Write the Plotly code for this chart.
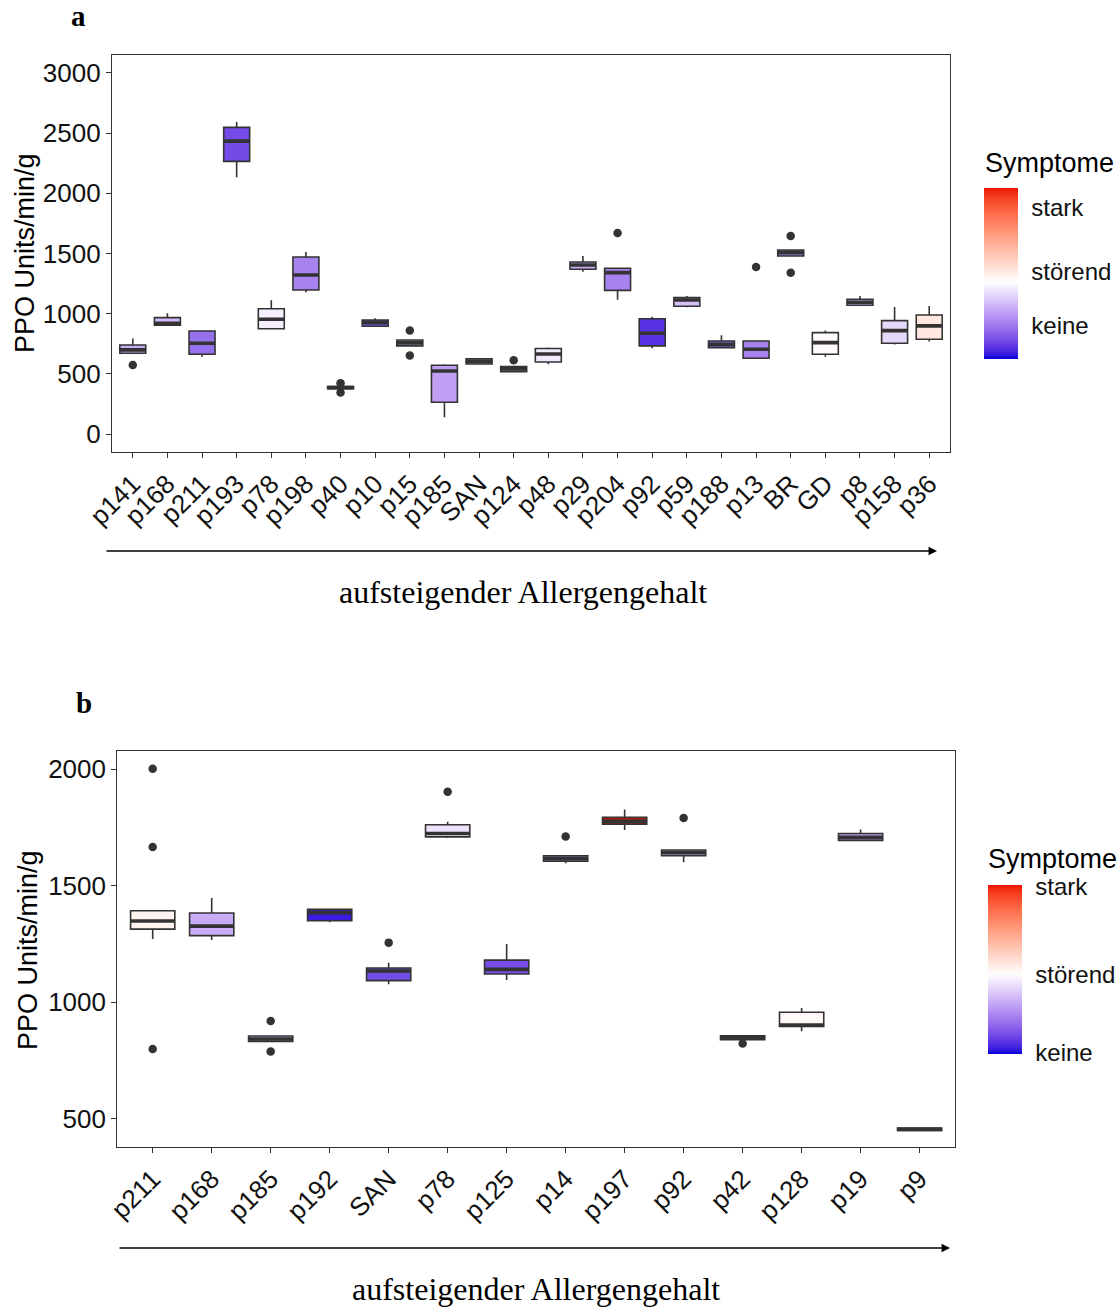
import plotly.graph_objects as go

# ---------------- data: panel a ----------------
cats_a = ["p141", "p168", "p211", "p193", "p78", "p198", "p40", "p10", "p15", "p185", "SAN", "p124",
          "p48", "p29", "p204", "p92", "p59", "p188", "p13", "BR", "GD", "p8", "p158", "p36"]
q1_a = [672, 904, 664, 2265, 876, 1197, 378, 896, 733, 265, 583, 520,
        600, 1369, 1194, 733, 1062, 719, 630, 1479, 664, 1070, 755, 788]
med_a = [700, 921, 755, 2433, 954, 1322, 387, 926, 758, 525, 603, 542,
         666, 1405, 1341, 838, 1114, 746, 705, 1507, 760, 1095, 860, 899]
q3_a = [741, 968, 857, 2547, 1042, 1471, 395, 948, 782, 572, 625, 561,
        711, 1430, 1377, 959, 1134, 774, 774, 1529, 843, 1120, 943, 990]
lo_a = [672, 904, 644, 2132, 876, 1178, 378, 896, 733, 141, 583, 520,
        581, 1349, 1117, 713, 1053, 719, 630, 1479, 644, 1070, 744, 769]
hi_a = [794, 1004, 857, 2591, 1112, 1512, 395, 962, 782, 581, 633, 561,
        719, 1479, 1377, 976, 1147, 821, 774, 1529, 860, 1147, 1056, 1065]
sym_a = [0.297, 0.324, 0.18, 0.108, 0.423, 0.216, 0.30, 0.126, 0.30, 0.27, 0.30, 0.30,
         0.414, 0.297, 0.216, 0.063, 0.333, 0.162, 0.216, 0.216, 0.461, 0.30, 0.378, 0.516]
out_cat_a = ["p141", "p40", "p40", "p15", "p15", "p124", "p204", "p13", "BR", "BR"]
out_val_a = [575, 423, 346, 860, 653, 614, 1670, 1388, 1645, 1341]

# ---------------- data: panel b ----------------
cats_b = ["p211", "p168", "p185", "p192", "SAN", "p78", "p125", "p14", "p197", "p92", "p42", "p128", "p19", "p9"]
q1_b = [1314, 1286, 832, 1350, 1093, 1710, 1121, 1606, 1765, 1629, 839, 896, 1695, 449]
med_b = [1349, 1327, 842, 1385, 1134, 1725, 1141, 1618, 1778, 1642, 848, 902, 1708, 454]
q3_b = [1393, 1383, 855, 1399, 1147, 1762, 1181, 1629, 1794, 1654, 856, 957, 1725, 460]
lo_b = [1272, 1267, 832, 1344, 1077, 1705, 1095, 1597, 1740, 1601, 839, 875, 1692, 449]
hi_b = [1393, 1448, 855, 1403, 1170, 1775, 1250, 1629, 1828, 1654, 856, 975, 1742, 460]
sym_b = [0.502, 0.31, 0.30, 0.03, 0.113, 0.414, 0.122, 0.30, 1.0, 0.30, 0.30, 0.49, 0.282, 0.30]
out_cat_b = ["p211", "p211", "p211", "p185", "p185", "SAN", "p78", "p14", "p92", "p42"]
out_val_b = [2003, 1667, 799, 919, 788, 1256, 1904, 1712, 1791, 823]

sym_labels = ["keine", "störend", "stark"]
sym_ticks_a = [0.20, 0.51, 0.89]
sym_ticks_b = [0.006, 0.47, 0.994]
lim_a, lim_b = [0.0, 1.0], [0.0, 1.0]
mid_a, mid_b = 0.45, 0.47

LOW, MID, HIGH = "#0000DD", "#FFFFFF", "#EE1100"

# ---------------- colour helpers (Lab interpolation) -----
def _hex2rgb(h):
    h = h.lstrip("#")
    return [int(h[i:i + 2], 16) / 255 for i in (0, 2, 4)]

def _lin(c):
    return c / 12.92 if c <= 0.04045 else ((c + 0.055) / 1.055) ** 2.4

def _delin(c):
    c = 12.92 * c if c <= 0.0031308 else 1.055 * max(c, 0) ** (1 / 2.4) - 0.055
    return min(1, max(0, c))

WN = (0.95047, 1.0, 1.08883)

def _f(t):
    d = 6 / 29
    return t ** (1 / 3) if t > d ** 3 else t / (3 * d * d) + 4 / 29

def _finv(t):
    d = 6 / 29
    return t ** 3 if t > d else 3 * d * d * (t - 4 / 29)

def to_lab(h):
    r, g, b = [_lin(c) for c in _hex2rgb(h)]
    X = 0.4124 * r + 0.3576 * g + 0.1805 * b
    Y = 0.2126 * r + 0.7152 * g + 0.0722 * b
    Z = 0.0193 * r + 0.1192 * g + 0.9505 * b
    fx, fy, fz = _f(X / WN[0]), _f(Y / WN[1]), _f(Z / WN[2])
    return (116 * fy - 16, 500 * (fx - fy), 200 * (fy - fz))

def from_lab(L, a, b):
    fy = (L + 16) / 116
    fx = fy + a / 500
    fz = fy - b / 200
    X, Y, Z = WN[0] * _finv(fx), WN[1] * _finv(fy), WN[2] * _finv(fz)
    r = 3.2406 * X - 1.5372 * Y - 0.4986 * Z
    g = -0.9689 * X + 1.8758 * Y + 0.0415 * Z
    bb = 0.0557 * X - 0.2040 * Y + 1.0570 * Z
    return "#%02x%02x%02x" % tuple(int(round(_delin(c) * 255)) for c in (r, g, bb))

LAB = [to_lab(LOW), to_lab(MID), to_lab(HIGH)]

def grad(t):
    t = min(1, max(0, t))
    if t <= 0.5:
        A, B, u = LAB[0], LAB[1], t / 0.5
    else:
        A, B, u = LAB[1], LAB[2], (t - 0.5) / 0.5
    return from_lab(*[A[i] + (B[i] - A[i]) * u for i in range(3)])

def rescale_mid(v, lo, hi, mid):
    if v <= mid:
        return 0.5 * (v - lo) / (mid - lo)
    return 0.5 + 0.5 * (v - mid) / (hi - mid)

def colorscale(lo, hi, mid, n=40):
    return [[k / n, grad(rescale_mid(lo + (hi - lo) * k / n, lo, hi, mid))] for k in range(n + 1)]

# ---------------- figure ----------------
W, H = 1120, 1311
fig = go.Figure()
DARK = "#333333"
FONT = "Arial, Liberation Sans, sans-serif"

def add_panel(cats, q1, med, q3, lo, hi, sym, lim, mid, oc, ov, xa, ya, ticks, cbx, cby, cblen):
    smin, smax = lim
    for i, c in enumerate(cats):
        col = grad(rescale_mid(sym[i], smin, smax, mid))
        fig.add_trace(go.Box(x=[i], q1=[q1[i]], median=[med[i]], q3=[q3[i]],
                             lowerfence=[lo[i]], upperfence=[hi[i]], width=0.75,
                             fillcolor=col, line=dict(color=DARK, width=1.6),
                             whiskerwidth=0, boxpoints=False, showlegend=False,
                             hoverinfo="skip", xaxis=xa, yaxis=ya))
    mx, my = [], []
    for i in range(len(cats)):
        mx += [i - 0.375, i + 0.375, None]
        my += [med[i], med[i], None]
    fig.add_trace(go.Scatter(x=mx, y=my, mode="lines", line=dict(color=DARK, width=3.6),
                             showlegend=False, hoverinfo="skip", xaxis=xa, yaxis=ya))
    fig.add_trace(go.Scatter(x=[cats.index(c) for c in oc], y=ov, mode="markers",
                             marker=dict(color=DARK, size=8.5), showlegend=False,
                             hoverinfo="skip", xaxis=xa, yaxis=ya))
    fig.add_trace(go.Scatter(x=[0, 0], y=[med[0], med[0]], mode="markers",
                             marker=dict(size=0, opacity=0, color=[smin, smax], cmin=smin, cmax=smax,
                                         colorscale=colorscale(smin, smax, mid), showscale=True,
                                         colorbar=dict(x=cbx, xanchor="left", y=cby, yanchor="middle",
                                                       len=cblen, lenmode="pixels", thickness=34,
                                                       thicknessmode="pixels", xpad=0, ypad=0,
                                                       outlinewidth=0, tickvals=ticks, ticktext=sym_labels,
                                                       ticks="outside", ticklen=9,
                                                       tickcolor="white",
                                                       tickfont=dict(size=24, color="#111", family=FONT))),
                             showlegend=False, hoverinfo="skip", xaxis=xa, yaxis=ya))

add_panel(cats_a, q1_a, med_a, q3_a, lo_a, hi_a, sym_a, lim_a, mid_a, out_cat_a, out_val_a, "x", "y",
          sym_ticks_a, 984 / W, 1 - 273.8 / H, 171)
add_panel(cats_b, q1_b, med_b, q3_b, lo_b, hi_b, sym_b, lim_b, mid_b, out_cat_b, out_val_b, "x2", "y2",
          sym_ticks_b, 988 / W, 1 - 969.6 / H, 169)

ax_common = dict(showline=True, mirror=True, linecolor=DARK, linewidth=1.2, showgrid=False,
                 zeroline=False, ticks="outside", ticklen=5, tickcolor=DARK, tickwidth=1.2,
                 automargin=False, tickfont=dict(size=26, color="#111", family=FONT))

fig.update_layout(
    width=W, height=H, margin=dict(l=0, r=0, t=0, b=0, autoexpand=False),
    paper_bgcolor="white", plot_bgcolor="white",
    font=dict(family=FONT, color="#111"),
    xaxis=dict(domain=[112 / W, 950 / W], range=[-0.6, 23.6], tickvals=list(range(len(cats_a))),
               ticktext=cats_a, tickangle=-45, anchor="y", **ax_common),
    yaxis=dict(domain=[1 - 452.3 / H, 1 - 54.7 / H], range=[-150, 3150],
               tickvals=[0, 500, 1000, 1500, 2000, 2500, 3000], anchor="x", **ax_common),
    xaxis2=dict(domain=[117.3 / W, 955 / W], range=[-0.6, 13.6], tickvals=list(range(len(cats_b))),
                ticktext=cats_b, tickangle=-45, anchor="y2", **ax_common),
    yaxis2=dict(domain=[1 - 1147.3 / H, 1 - 751 / H], range=[377, 2079],
                tickvals=[500, 1000, 1500, 2000], anchor="x2", **ax_common),
)

ann = []
def txt(x, y, s, size, family=FONT, bold=False, angle=0):
    ann.append(dict(x=x / W, y=1 - y / H, xref="paper", yref="paper", text=("<b>%s</b>" % s) if bold else s,
                    showarrow=False, textangle=angle, xanchor="center", yanchor="middle",
                    font=dict(size=size, family=family, color="black")))

SERIF = "Liberation Serif, Times New Roman, serif"
txt(78, 16, "a", 29, SERIF, bold=True)
txt(84, 703, "b", 29, SERIF, bold=True)
txt(25, 253, "PPO Units/min/g", 27, angle=-90)
txt(28, 950, "PPO Units/min/g", 27, angle=-90)
txt(523, 592, "aufsteigender Allergengehalt", 32, SERIF)
txt(536, 1289, "aufsteigender Allergengehalt", 32, SERIF)
txt(1049, 163, "Symptome", 27)
txt(1052, 859, "Symptome", 27)
for (x0, x1, y) in [(105, 937, 551), (118, 950, 1248)]:
    ann.append(dict(x=x1 / W, y=1 - y / H, ax=x0 - x1, ay=0, xref="paper", yref="paper",
                    axref="pixel", ayref="pixel", showarrow=True, arrowhead=2, arrowsize=1.3,
                    arrowwidth=1.3, arrowcolor="black", text=""))
fig.update_layout(annotations=ann)

fig.write_html("out.html")
